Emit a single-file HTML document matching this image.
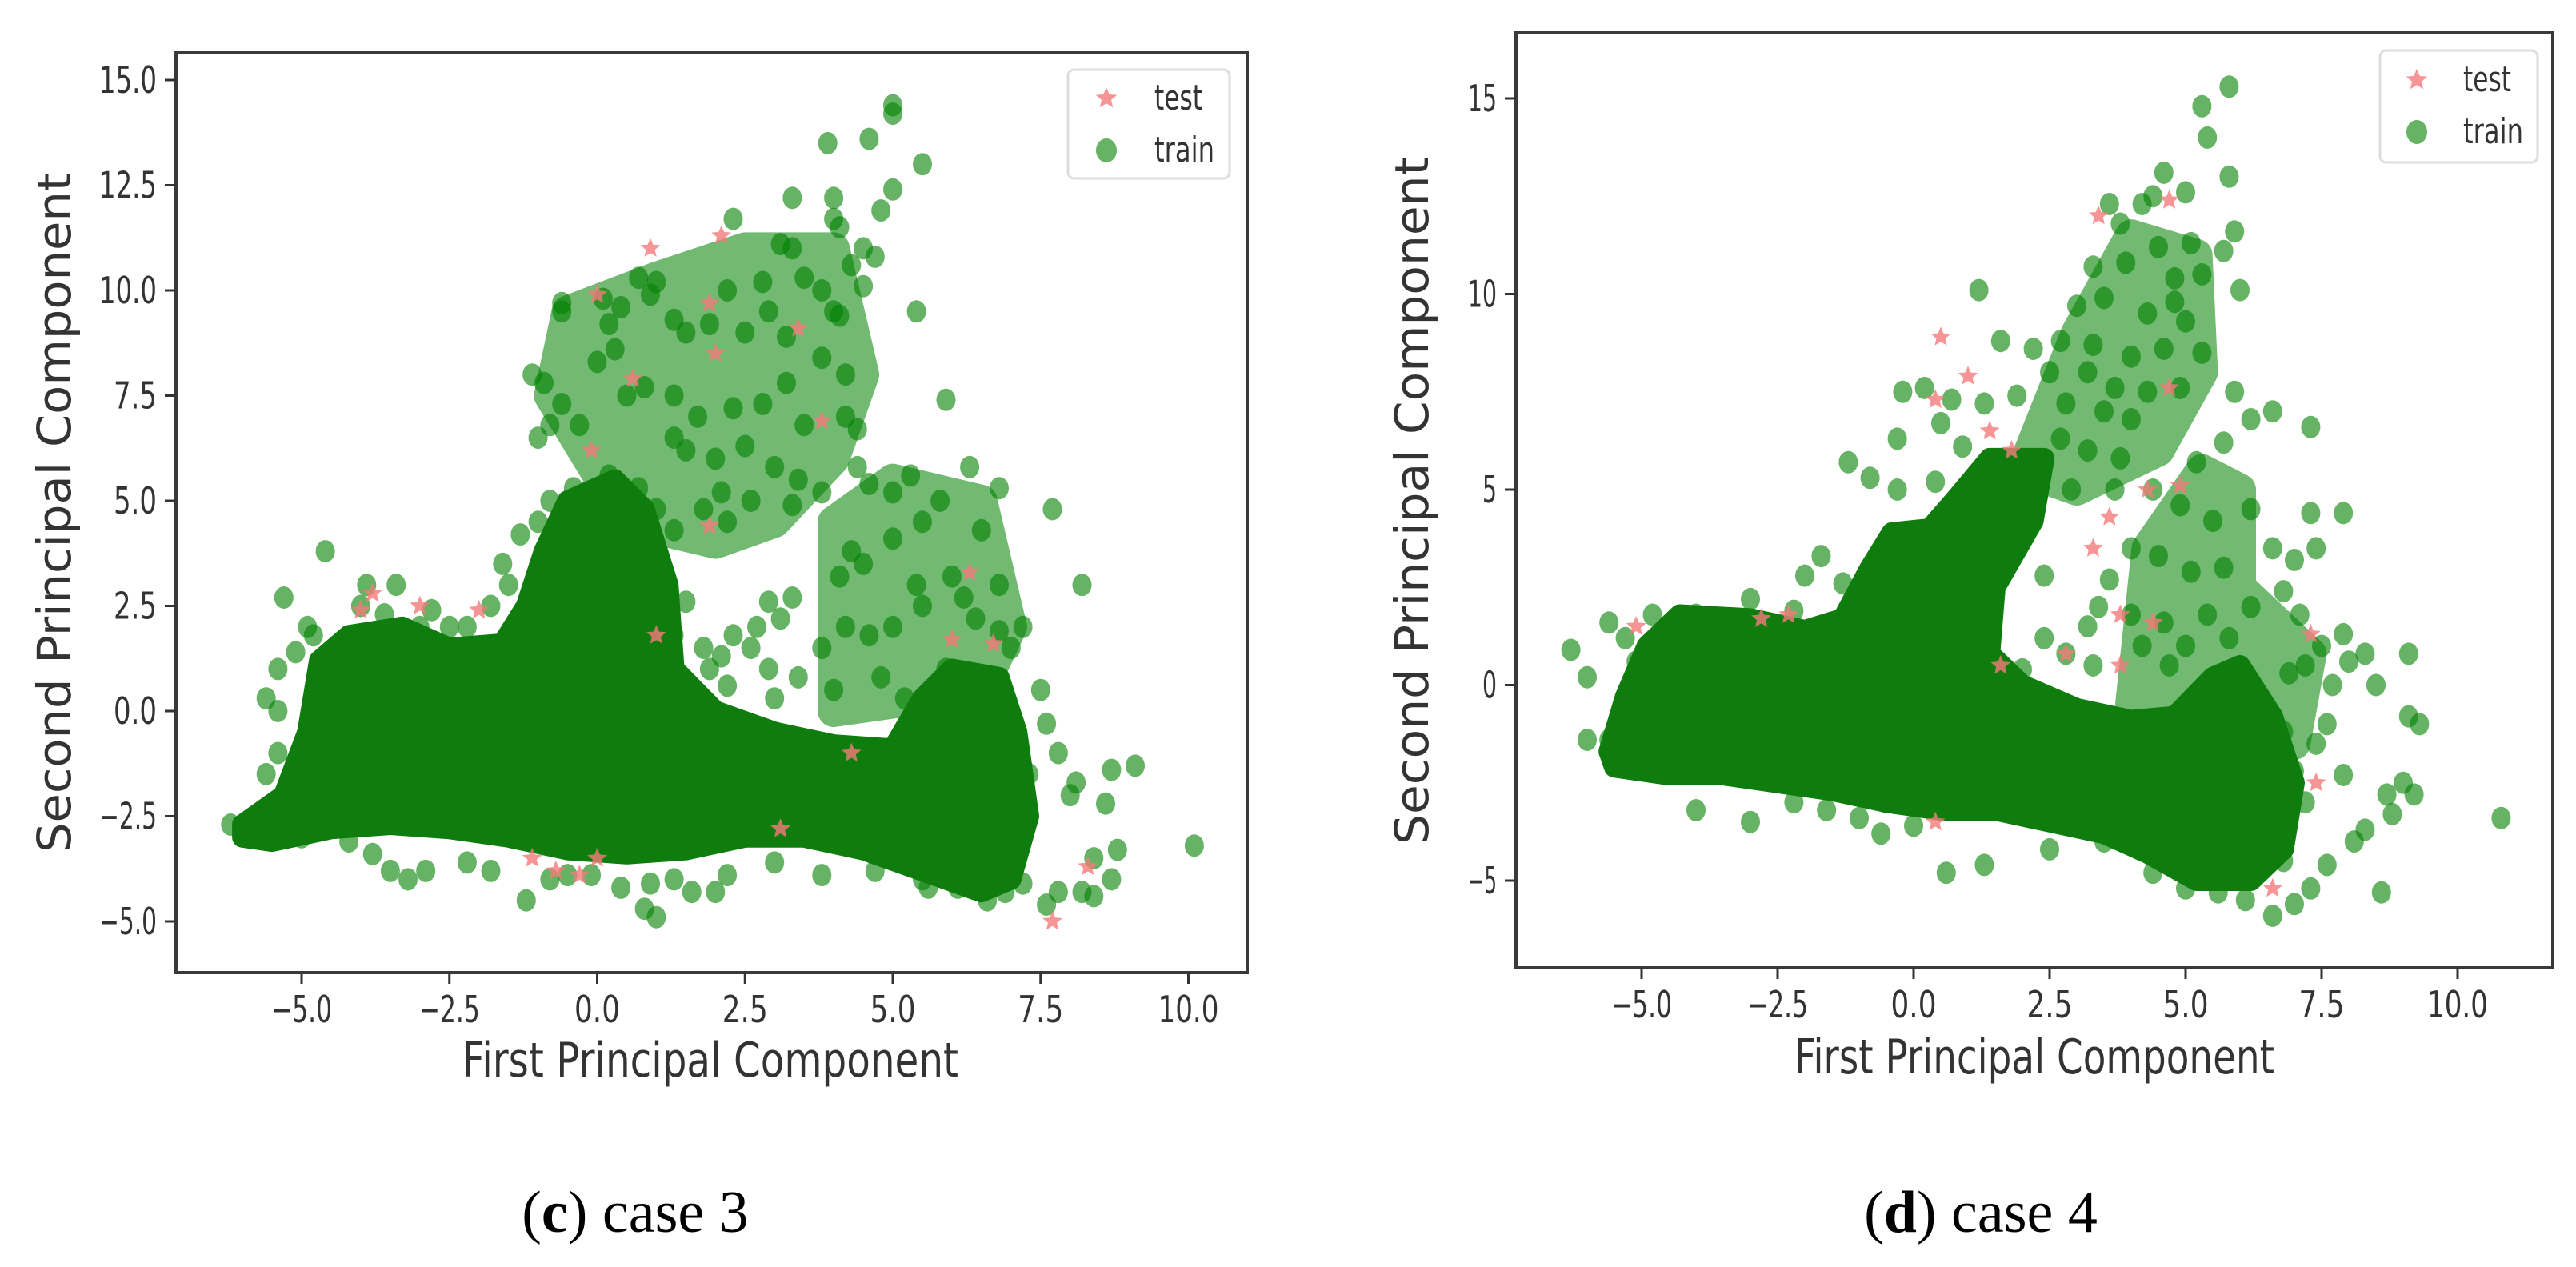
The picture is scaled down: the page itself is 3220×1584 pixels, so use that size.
<!DOCTYPE html>
<html><head><meta charset="utf-8"><title>PCA scatter case 3 and case 4</title>
<style>
html,body{margin:0;padding:0;background:#fff;}
svg{display:block;}
text{font-family:"DejaVu Sans","Liberation Sans",sans-serif;fill:#333;}
.cap{font-family:"Liberation Serif",serif;fill:#000;}
</style></head>
<body>
<svg id="fig" xmlns="http://www.w3.org/2000/svg" width="3220" height="1584" viewBox="0 0 3220 1584"></svg>
<script>
// ---------- data: chart (c) case 3 ----------
const cXTicks = [-5.0, -2.5, 0.0, 2.5, 5.0, 7.5, 10.0];
const cXTickLabels = ["\u22125.0","\u22122.5","0.0","2.5","5.0","7.5","10.0"];
const cYTicks = [-5.0, -2.5, 0.0, 2.5, 5.0, 7.5, 10.0, 12.5, 15.0];
const cYTickLabels = ["\u22125.0","\u22122.5","0.0","2.5","5.0","7.5","10.0","12.5","15.0"];
const cDenseCore = [[-6.0,-2.7],[-5.3,-2.0],[-4.9,-0.5],[-4.7,1.2],[-4.2,1.8],[-3.3,2.0],[-2.5,1.5],[-1.6,1.6],[-1.2,2.5],[-0.9,3.8],[-0.5,5.0],[0.3,5.5],[0.8,4.8],[1.2,3.0],[1.3,1.0],[2.0,0.0],[3.0,-0.5],[4.0,-0.8],[5.0,-0.9],[5.5,0.3],[6.0,1.0],[6.8,0.8],[7.1,-0.5],[7.3,-2.5],[7.0,-4.0],[6.5,-4.3],[5.5,-3.8],[4.5,-3.3],[3.5,-3.0],[2.5,-3.0],[1.5,-3.3],[0.5,-3.4],[-0.5,-3.3],[-1.5,-3.0],[-2.5,-2.8],[-3.5,-2.7],[-4.5,-2.8],[-5.5,-3.1],[-6.0,-3.0]];
const cMidUpper = [[0.5,4.5],[-0.8,7.5],[-0.5,9.5],[1.0,10.3],[2.5,11.0],[4.0,11.0],[4.5,8.0],[4.0,6.0],[3.0,4.5],[2.0,4.0]];
const cMidRight = [[4.0,0.0],[4.0,4.5],[5.0,5.5],[6.5,5.0],[7.0,2.0],[6.5,0.5]];
const cTrainX = [5.0,5.0,4.6,3.9,5.5,4.0,5.0,4.8,3.3,4.0,4.1,2.3,3.1,3.3,4.5,4.7,4.3,2.2,2.8,3.5,3.8,4.0,4.1,4.5,5.4,1.0,1.5,0.4,0.1,-0.6,-0.6,0.2,0.7,0.9,1.3,1.9,2.5,2.9,3.2,3.8,4.2,0.3,0.0,-1.1,-0.9,-0.6,-0.8,-1.0,-0.3,0.5,0.8,1.3,1.7,2.3,2.8,3.2,3.5,4.2,4.4,1.5,1.3,2.0,2.5,3.0,3.4,2.1,2.6,1.8,2.2,3.8,3.3,4.4,4.6,5.0,5.3,5.8,6.3,6.8,5.9,7.7,6.5,5.5,5.0,4.3,4.5,4.1,5.4,6.0,6.8,6.2,6.4,6.8,7.0,8.2,7.2,5.5,5.0,4.6,4.2,3.8,3.3,2.9,2.7,3.1,2.6,2.9,3.4,4.0,4.8,5.2,3.0,2.3,2.1,1.8,1.3,1.2,7.5,7.6,7.8,8.1,8.6,8.7,9.1,8.0,7.3,8.4,8.8,8.7,8.2,7.8,7.6,7.2,8.4,10.1,6.9,6.6,6.1,5.5,4.7,3.8,3.0,2.2,2.0,1.6,1.3,0.9,0.8,1.0,0.4,-0.1,-0.5,-0.8,-1.2,-1.8,-2.2,-2.9,-3.2,-3.5,-3.8,-4.2,-5.0,-5.5,-6.2,-5.6,-5.4,-5.6,-5.4,-5.4,-5.1,-4.8,-4.9,-5.3,-4.6,-4.0,-3.9,-3.6,-3.4,-3.0,-2.8,-2.5,-2.2,-1.8,-1.6,-1.5,-1.3,-1.0,-0.8,-0.4,0.2,0.7,1.0,1.3,1.0,0.9,1.5,1.9,2.2,1.6,-4.4,-4.7,-4.8,-5.0,6.0,6.3,6.6,5.9,6.2,6.6,5.6,5.8];
const cTrainY = [14.4,14.2,13.6,13.5,13.0,12.2,12.4,11.9,12.2,11.7,11.5,11.7,11.1,11.0,11.0,10.8,10.6,10.0,10.2,10.3,10.0,9.5,9.4,10.1,9.5,10.2,9.0,9.6,9.8,9.7,9.5,9.2,10.3,9.9,9.3,9.2,9.0,9.5,8.9,8.4,8.0,8.6,8.3,8.0,7.8,7.3,6.8,6.5,6.8,7.5,7.7,7.5,7.0,7.2,7.3,7.8,6.8,7.0,6.7,6.2,6.5,6.0,6.3,5.8,5.5,5.2,5.0,4.8,4.5,5.2,4.9,5.8,5.4,5.2,5.6,5.0,5.8,5.3,7.4,4.8,4.3,4.5,4.1,3.8,3.5,3.2,3.0,3.2,3.0,2.7,2.2,1.9,1.5,3.0,2.0,2.5,2.0,1.8,2.0,1.5,2.7,2.6,2.0,2.2,1.5,1.0,0.8,0.5,0.8,0.3,0.3,1.8,1.3,1.5,1.8,1.0,0.5,-0.3,-1.0,-1.7,-2.2,-1.4,-1.3,-2.0,-1.5,-3.5,-3.3,-4.0,-4.3,-4.3,-4.6,-4.1,-4.4,-3.2,-4.3,-4.5,-4.2,-4.0,-3.8,-3.9,-3.6,-3.9,-4.3,-4.3,-4.0,-4.1,-4.7,-4.9,-4.2,-3.9,-3.9,-4.0,-4.5,-3.8,-3.6,-3.8,-4.0,-3.8,-3.4,-3.1,-3.0,-2.9,-2.7,-1.5,-1.0,0.3,0.0,1.0,1.4,1.8,2.0,2.7,3.8,2.5,3.0,2.3,3.0,2.0,2.4,2.0,2.0,2.5,3.5,3.0,4.2,4.5,5.0,5.3,5.6,5.3,4.8,4.3,3.5,2.5,2.6,1.0,0.6,0.2,1.5,0.5,-0.5,-1.8,-0.5,0.0,-0.8,1.0,-1.0,0.5,-4.2,-2.2];
const cTestX = [0.9,2.1,0.0,1.9,3.4,0.6,3.8,-0.1,6.3,6.7,6.0,-3.8,-4.0,-3.0,-2.0,1.0,-1.1,-0.7,0.0,-0.3,3.1,7.7,8.3,4.3,2.0,1.9];
const cTestY = [11.0,11.3,9.9,9.7,9.1,7.9,6.9,6.2,3.3,1.6,1.7,2.8,2.4,2.5,2.4,1.8,-3.5,-3.8,-3.5,-3.9,-2.8,-5.0,-3.7,-1.0,8.5,4.4];

// ---------- data: chart (d) case 4 ----------
const dXTicks = [-5.0, -2.5, 0.0, 2.5, 5.0, 7.5, 10.0];
const dXTickLabels = ["\u22125.0","\u22122.5","0.0","2.5","5.0","7.5","10.0"];
const dYTicks = [-5, 0, 5, 10, 15];
const dYTickLabels = ["\u22125","0","5","10","15"];
const dDenseCore = [[-5.6,-1.7],[-5.3,-0.3],[-4.9,1.0],[-4.3,1.8],[-3.0,1.7],[-2.0,1.4],[-1.3,1.7],[-0.8,3.0],[-0.4,3.9],[0.3,4.0],[0.8,4.8],[1.4,5.8],[2.4,5.8],[2.2,4.2],[1.5,2.5],[1.4,0.8],[2.0,0.0],[3.0,-0.6],[4.0,-0.9],[4.8,-0.8],[5.5,0.2],[6.0,0.5],[6.6,-0.8],[7.0,-2.5],[6.8,-4.2],[6.2,-5.0],[5.2,-5.0],[4.3,-4.3],[3.5,-3.8],[2.5,-3.5],[1.5,-3.2],[0.5,-3.2],[-0.5,-3.0],[-1.5,-2.7],[-2.5,-2.5],[-3.5,-2.3],[-4.5,-2.3],[-5.5,-2.1]];
const dMidUpper = [[2.0,5.5],[3.0,9.0],[4.0,11.5],[5.2,11.0],[5.3,8.0],[4.5,6.0],[3.0,5.0]];
const dMidRight = [[4.0,-0.5],[4.3,3.5],[5.3,5.5],[6.0,5.0],[6.0,2.5],[7.3,0.8],[7.0,-1.5],[5.5,-0.5]];
const dTrainX = [5.8,5.3,5.4,4.6,5.0,5.8,3.6,4.4,4.2,3.8,4.5,5.1,5.9,5.7,3.3,3.9,4.8,5.3,6.0,1.2,3.0,3.5,4.3,4.8,5.0,1.6,2.2,2.7,3.3,4.0,4.6,5.3,2.5,3.2,3.7,4.3,4.9,-0.2,0.2,0.7,1.3,1.9,2.8,3.5,4.0,5.9,6.2,6.6,7.3,-0.3,0.5,0.9,2.7,3.2,3.8,5.2,5.7,-1.2,-0.8,-0.3,0.4,2.9,3.7,4.4,4.9,5.5,6.2,7.3,7.9,-1.7,-2.0,-1.3,2.4,3.6,4.0,4.5,5.1,5.7,6.6,7.0,7.4,3.4,4.0,4.6,5.4,6.2,6.8,7.1,2.4,3.2,4.2,5.0,5.8,7.5,7.9,8.3,9.1,8.0,7.7,8.5,9.1,9.3,7.2,2.8,3.3,4.7,-6.3,-6.0,-6.0,-5.6,-5.6,-5.3,-5.1,-4.8,-4.0,-3.0,-2.2,-1.5,-4.0,-3.0,-2.2,-1.6,-1.0,-0.6,0.0,0.6,1.3,2.5,3.5,4.4,5.0,5.6,6.1,6.6,7.0,7.3,7.6,8.1,8.6,8.3,8.8,8.7,9.2,9.0,7.9,7.4,7.6,10.8,6.8,6.2,7.2,7.0,6.8,6.9,1.0,1.8,0.2,-0.5,2.0,1.5];
const dTrainY = [15.3,14.8,14.0,13.1,12.6,13.0,12.3,12.5,12.3,11.8,11.2,11.3,11.6,11.1,10.7,10.8,10.4,10.5,10.1,10.1,9.7,9.9,9.5,9.8,9.3,8.8,8.6,8.8,8.7,8.4,8.6,8.5,8.0,8.0,7.6,7.5,7.6,7.5,7.6,7.3,7.2,7.4,7.2,7.0,6.8,7.5,6.8,7.0,6.6,6.3,6.7,6.1,6.3,6.0,5.8,5.7,6.2,5.7,5.3,5.0,5.2,5.0,5.0,5.0,4.6,4.2,4.5,4.4,4.4,3.3,2.8,2.6,2.8,2.7,3.5,3.3,2.9,3.0,3.5,3.2,3.5,2.0,1.8,1.6,1.8,2.0,2.4,1.8,1.2,1.5,1.0,1.0,1.2,1.0,1.3,0.8,0.8,0.6,0.0,0.0,-0.8,-1.0,0.5,0.8,0.5,0.5,0.9,0.2,-1.4,-1.4,1.6,1.2,0.6,1.8,1.8,2.2,1.9,1.5,-3.2,-3.5,-3.0,-3.2,-3.4,-3.8,-3.6,-4.8,-4.6,-4.2,-4.0,-4.8,-5.2,-5.3,-5.5,-5.9,-5.6,-5.2,-4.6,-4.0,-5.3,-3.7,-3.3,-2.8,-2.8,-2.5,-2.3,-1.5,-1.0,-3.4,-4.5,-4.0,-3.0,-2.2,-1.2,0.3,-0.8,-1.0,-1.2,-3.0,0.4,-1.5];
const dTestX = [3.4,4.7,0.5,1.0,0.4,1.4,1.8,3.6,3.3,4.3,3.8,4.4,2.8,3.8,7.3,-5.1,-2.3,-2.8,0.4,6.6,1.6,4.7,4.9,7.4];
const dTestY = [12.0,12.4,8.9,7.9,7.3,6.5,6.0,4.3,3.5,5.0,1.8,1.6,0.8,0.5,1.3,1.5,1.8,1.7,-3.5,-5.2,0.5,7.6,5.1,-2.5];

const NS = "http://www.w3.org/2000/svg";
const svg = document.getElementById('fig');
function mk(tag, attrs, parent){
  const e = document.createElementNS(NS, tag);
  for (const k in attrs) e.setAttribute(k, attrs[k]);
  (parent||svg).appendChild(e);
  return e;
}
function starPath(cx, cy, r){
  let d = "";
  for (let i = 0; i < 10; i++){
    const rr = i % 2 ? r * 0.45 : r;
    const a = -Math.PI/2 + i * Math.PI/5;
    d += (i ? "L" : "M") + (cx + rr*Math.cos(a)).toFixed(1) + "," + (cy + rr*Math.sin(a)).toFixed(1);
  }
  return d + "Z";
}

function drawChart(cfg){
  const g = mk('g', {});
  
  
  const sx = v => cfg.x0px + (v - cfg.x0v) * cfg.xs;
  const sy = v => cfg.y0px - (v - cfg.y0v) * cfg.ys;
  const B = cfg.box;
  const toPts = arr => arr.map(p => sx(p[0]).toFixed(1) + "," + sy(p[1]).toFixed(1)).join(" ");
  const mg = mk('g', {opacity: 0.55}, g);
  
  
  for (const reg of cfg.mids){
    const m = mk('polygon', {points: toPts(reg), fill: "#008000", stroke: "#008000", "stroke-width": 40, "stroke-linejoin": "round"}, mg);
    
    
  }
  const tg = mk('g', {fill: "#008000", "fill-opacity": 0.6}, g);
  
  
  for (let i = 0; i < cfg.trainX.length; i++){
    const c = mk('ellipse', {cx: sx(cfg.trainX[i]).toFixed(1), cy: sy(cfg.trainY[i]).toFixed(1), rx: 12, ry: 14}, tg);
    
    
  }
  const core = mk('polygon', {points: toPts(cfg.dense), fill: "#0e7d0e", stroke: "#0e7d0e", "stroke-width": 26, "stroke-linejoin": "round"}, g);
  
  
  const sg = mk('g', {fill: "#f47a7a", "fill-opacity": 0.8}, g);
  
  
  for (let i = 0; i < cfg.testX.length; i++){
    const s = mk('path', {d: starPath(sx(cfg.testX[i]), sy(cfg.testY[i]), 13)}, sg);
    
    
  }
  const fr = mk('rect', {x: B[0], y: B[1], width: B[2]-B[0], height: B[3]-B[1], fill: "none", stroke: "#3a3a3a", "stroke-width": 4}, g);
  
  
  for (let i = 0; i < cfg.xTicks.length; i++){
    const x = sx(cfg.xTicks[i]);
    const t = mk('line', {x1: x, x2: x, y1: B[3], y2: B[3]+14, stroke: "#333", "stroke-width": 3}, g);
    
    
    const lbl = cfg.xTickLabels[i];
    const tx = mk('text', {x: x, y: B[3]+62, "font-size": 46, "text-anchor": "middle", textLength: lbl.length*19, lengthAdjust: "spacingAndGlyphs"}, g);
    tx.textContent = lbl;
    
    
  }
  for (let i = 0; i < cfg.yTicks.length; i++){
    const y = sy(cfg.yTicks[i]);
    const t = mk('line', {x1: B[0]-14, x2: B[0], y1: y, y2: y, stroke: "#333", "stroke-width": 3}, g);
    
    
    const lbl = cfg.yTickLabels[i];
    const tx = mk('text', {x: B[0]-24, y: y+16, "font-size": 46, "text-anchor": "end", textLength: lbl.length*18, lengthAdjust: "spacingAndGlyphs"}, g);
    tx.textContent = lbl;
    
    
  }
  const xt = mk('text', {x: cfg.xTitle[0], y: cfg.xTitle[1], "font-size": 60, "text-anchor": "middle", textLength: cfg.xTitle[2], lengthAdjust: "spacingAndGlyphs"}, g);
  xt.textContent = "First Principal Component";
  
  
  const yt = mk('text', {x: 0, y: 0, "font-size": 58, "text-anchor": "middle", textLength: cfg.yTitle[2], lengthAdjust: "spacingAndGlyphs", transform: "translate(" + cfg.yTitle[0] + "," + cfg.yTitle[1] + ") rotate(-90)"}, g);
  yt.textContent = "Second Principal Component";
  
  
  const L = cfg.legend;
  const lg = mk('g', {}, g);
  
  
  mk('rect', {x: L[0], y: L[1], width: L[2]-L[0], height: L[3]-L[1], rx: 8, fill: "#fff", stroke: "#ddd", "stroke-width": 3}, lg);
  const e1 = mk('path', {d: starPath(L[4], L[5], 14), fill: "#f47a7a", "fill-opacity": 0.8}, lg);
  
  
  const t1 = mk('text', {x: L[6], y: L[5]+14, "font-size": 44, textLength: 60, lengthAdjust: "spacingAndGlyphs"}, lg);
  t1.textContent = "test";
  
  
  const e2 = mk('ellipse', {cx: L[4], cy: L[7], rx: 13, ry: 15, fill: "#008000", "fill-opacity": 0.6}, lg);
  
  
  const t2 = mk('text', {x: L[6], y: L[7]+14, "font-size": 44, textLength: 75, lengthAdjust: "spacingAndGlyphs"}, lg);
  t2.textContent = "train";
  
  
}

drawChart({name: "chart-case-3", box: [220, 66, 1559, 1216],
  x0v: -5, x0px: 377, xs: 73.9, y0v: 15, y0px: 100, ys: 52.6,
  dense: cDenseCore, mids: [cMidUpper, cMidRight], trainX: cTrainX, trainY: cTrainY, testX: cTestX, testY: cTestY,
  xTicks: cXTicks, xTickLabels: cXTickLabels, yTicks: cYTicks, yTickLabels: cYTickLabels,
  xTitle: [888, 1346, 620], yTitle: [88, 641, 850],
  legend: [1335, 87, 1537, 223, 1383, 123, 1443, 188]});

drawChart({name: "chart-case-4", box: [1895, 41, 3191, 1210],
  x0v: -5, x0px: 2052, xs: 68.0, y0v: 15, y0px: 123, ys: 48.9,
  dense: dDenseCore, mids: [dMidUpper, dMidRight], trainX: dTrainX, trainY: dTrainY, testX: dTestX, testY: dTestY,
  xTicks: dXTicks, xTickLabels: dXTickLabels, yTicks: dYTicks, yTickLabels: dYTickLabels,
  xTitle: [2543, 1342, 600], yTitle: [1785, 626, 860],
  legend: [2975, 63, 3172, 203, 3021, 100, 3079, 165]});

const c1 = mk('text', {x: 794, y: 1540, "font-size": 74, "text-anchor": "middle", class: "cap"});
c1.innerHTML = '(<tspan font-weight="bold">c</tspan>) case 3';


const c2 = mk('text', {x: 2476, y: 1540, "font-size": 74, "text-anchor": "middle", class: "cap"});
c2.innerHTML = '(<tspan font-weight="bold">d</tspan>) case 4';


</script>
</body></html>
